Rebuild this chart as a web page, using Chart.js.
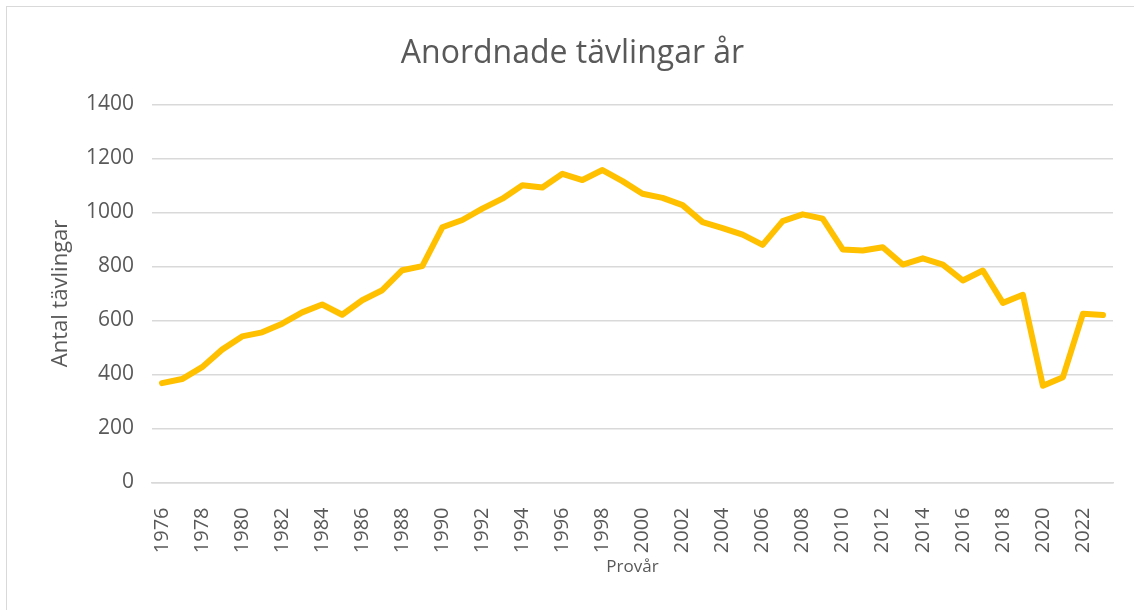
<!DOCTYPE html>
<html lang="sv">
<head>
<meta charset="utf-8">
<title>Anordnade tävlingar år</title>
<script src="https://cdn.jsdelivr.net/npm/chart.js@4/dist/chart.umd.min.js"></script>
<style>
  html, body { margin: 0; padding: 0; background: #fff; overflow: hidden; }
  #wrap { position: relative; width: 1134px; height: 610px; }
  #frame {
    position: absolute; left: 6px; top: 6px; width: 1200px; height: 700px;
    border: 1.5px solid #d9d9d9; box-sizing: border-box; pointer-events: none;
  }
  canvas { position: absolute; left: 0; top: 0; }
</style>
</head>
<body>
<div id="wrap">
  <div id="frame"></div>
  <canvas id="chart" width="1134" height="610"></canvas>
</div>
<script>
'use strict';

/* ── data ─────────────────────────────────────── */
const years = [
  1976, 1977, 1978, 1979, 1980, 1981, 1982, 1983, 1984, 1985,
  1986, 1987, 1988, 1989, 1990, 1991, 1992, 1993, 1994, 1995,
  1996, 1997, 1998, 1999, 2000, 2001, 2002, 2003, 2004, 2005,
  2006, 2007, 2008, 2009, 2010, 2011, 2012, 2013, 2014, 2015,
  2016, 2017, 2018, 2019, 2020, 2021, 2022, 2023
];
const competitions = [
   368,  383,  427,  492,  541,  556,  588,  630,  659,  621,
   675,  712,  786,  801,  945,  972, 1014, 1051, 1101, 1092,
  1143, 1120, 1157, 1116, 1069, 1054, 1027,  964,  942,  918,
   880,  968,  993,  977,  863,  859,  871,  807,  830,  807,
   748,  785,  665,  695,  358,  390,  625,  620
];
const yMin  = 0;
const yMax  = 1400;
const yStep = 200;

const chartTitle = 'Anordnade tävlingar år';
const xTitle     = 'Provår';
const yTitle     = 'Antal tävlingar';

/* ── styling ──────────────────────────────────── */
const FONT  = "'Open Sans', 'Noto Sans', sans-serif";
const GREY  = '#595959';
const GRID  = '#d9d9d9';
const LINE  = '#ffc000';

new Chart(document.getElementById('chart'), {
  type: 'line',
  data: {
    labels: years.map(String),
    datasets: [{
      label: yTitle,
      data: competitions,
      borderColor: LINE,
      backgroundColor: LINE,
      borderWidth: 6,
      borderJoinStyle: 'round',
      borderCapStyle: 'round',
      pointRadius: 0,
      tension: 0,
      fill: false,
    }],
  },
  options: {
    responsive: false,
    animation: false,
    // left/right padding chosen so the title centres like the original
    layout: { padding: { left: 16, right: 5, top: 0, bottom: 0 } },
    plugins: {
      legend: { display: false },
      tooltip: { enabled: false },
      title: {
        display: true,
        text: chartTitle,
        color: GREY,
        font: { family: FONT, size: 32, weight: 'normal', lineHeight: 1.2 },
        padding: { top: 35, bottom: 31 },
      },
    },
    scales: {
      x: {
        offset: true,
        grid: { display: false, drawTicks: false },
        border: { display: true, color: GRID, width: 1.5 },
        ticks: {
          autoSkip: false,
          minRotation: 90,
          maxRotation: 90,
          padding: 25,
          color: GREY,
          font: { family: FONT, size: 20 },
          callback: (val, i) => (i % 2 === 0 ? years[i] : ''),
        },
        title: {
          display: true,
          text: xTitle,
          color: GREY,
          font: { family: FONT, size: 17 },
          padding: { top: 0, bottom: 33 },
        },
        afterFit: (scale) => {
          scale.height = 127.5;
          scale.paddingLeft = 0;
          scale.paddingRight = 21;
        },
      },
      y: {
        min: yMin,
        max: yMax,
        grid: { color: GRID, lineWidth: 1.5, drawTicks: false },
        border: { display: false },
        ticks: {
          stepSize: yStep,
          padding: 18,
          color: GREY,
          font: { family: FONT, size: 21 },
          callback: (val) => String(val),
        },
        title: {
          display: true,
          text: yTitle,
          color: GREY,
          font: { family: FONT, size: 22 },
          padding: { top: 32, bottom: 0 },
        },
        afterFit: (scale) => { scale.width = 136; },
      },
    },
  },
});
</script>
</body>
</html>
